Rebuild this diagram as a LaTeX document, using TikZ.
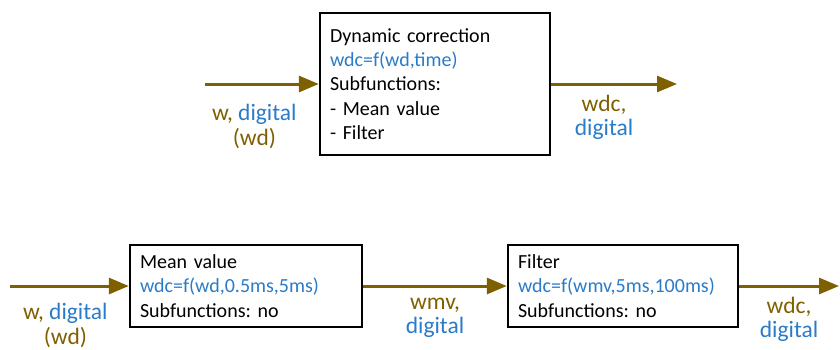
\documentclass[tikz,border=0pt]{standalone}
\usepackage{fontspec}
\setmainfont{Carlito}
\frenchspacing
\usetikzlibrary{arrows.meta, positioning}
\definecolor{sigBrown}{HTML}{7F6000}
\definecolor{sigBlue}{HTML}{2A7BC8}
\tikzset{
  fbox/.style={draw, line width=2.4pt, align=left, inner xsep=10pt, inner ysep=0pt,
    font=\fontsize{20}{24.4}\selectfont},
  sig/.style={-{Triangle[length=20pt, width=16pt]}, line width=3pt, sigBrown},
  lbl/.style={align=center, inner sep=0pt, font=\fontsize{23.5}{24}\selectfont, text=sigBrown}
}
\newcommand{\dg}{\textcolor{sigBlue}{digital}}

\begin{document}
\begin{tikzpicture}[x=1pt, y=-1pt]
    \useasboundingbox (0,0) rectangle (840,349);

    % Top: whole function
    \node[fbox, text width=210pt, minimum height=142pt] (dc) at (435,84)
      {Dynamic correction\\ \textcolor{sigBlue}{wdc=f(wd,time)}\\ Subfunctions:\\ - Mean value\\ - Filter};
    \coordinate (in1) at (205,84);
    \coordinate (out1) at (677,84);

    \draw[sig] (in1) -- (dc.west)
      node[lbl, midway, below=17.7pt, xshift=-7.5pt] (l1) {\strut w, \dg\\(wd)};
    \draw[sig] (dc.east) -- (out1)
      node[lbl, midway, below=8.7pt, xshift=-10pt] (l2) {\strut wdc,\\\dg};

    % Bottom: subfunctions
    \node[fbox, text width=212pt, minimum height=82pt] (mv) at (246,286)
      {Mean value\\ \textcolor{sigBlue}{wdc=f(wd,0.5ms,5ms)}\\ Subfunctions: no};
    \node[fbox, text width=210pt, minimum height=82pt] (flt) at (623,286)
      {Filter\\ \textcolor{sigBlue}{wdc=f(wmv,5ms,100ms)}\\ Subfunctions: no};
    \coordinate (in2) at (10,286);
    \coordinate (out2) at (839,286);

    \draw[sig] (in2) -- (mv.west)
      node[lbl, midway, below=15pt, xshift=-4pt] (l3) {\strut w, \dg\\(wd)};
    \draw[sig] (mv.east) -- (flt.west)
      node[lbl, midway, below=5.2pt] (l4) {\strut wmv,\\\dg};
    \draw[sig] (flt.east) -- (out2)
      node[lbl, midway, below=9.2pt] (l5) {\strut wdc,\\\dg};
\end{tikzpicture}
\end{document}
